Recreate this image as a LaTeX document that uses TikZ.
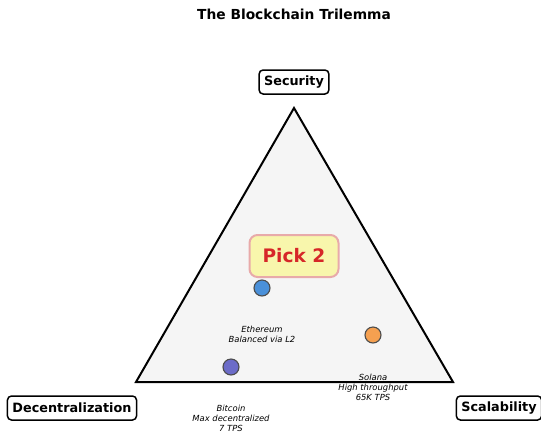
\documentclass[tikz,border=0pt]{standalone}
\usepackage{fontspec}
\setmainfont{DejaVu Sans}
\definecolor{pickfill}{RGB}{248,246,172}
\definecolor{pickedge}{RGB}{232,170,170}
\definecolor{pickred}{RGB}{214,39,40}
\begin{document}
\begin{tikzpicture}[x=1pt,y=-1pt,
  corner/.style={draw=black,line width=1.5pt,fill=white,rounded corners=4pt,
    font=\fontsize{12.8}{14}\selectfont\bfseries,inner xsep=5pt,minimum height=24pt},
  dot/.style={circle,draw=black!70,line width=1.1pt,minimum size=16pt,inner sep=0pt},
  note/.style={align=center,font=\fontsize{8.4}{10}\selectfont\itshape}]
\useasboundingbox (0,0) rectangle (541,432);
\node[font=\fontsize{13.8}{16}\selectfont\bfseries] (title) at (294,14) {The Blockchain Trilemma};
\coordinate (top) at (294,108);
\coordinate (bl) at (136,382);
\coordinate (br) at (453,382);
\draw[line width=2pt,fill=black!4,line join=miter] (top) -- (bl) -- (br) -- cycle;
\node[corner] (sec) at (294,82) {Security};
\node[corner] (dec) at (72,408) {Decentralization};
\node[corner] (sca) at (499,408) {Scalability};
\node[draw=pickedge,line width=2pt,fill=pickfill,rounded corners=8pt,
  minimum width=89pt,minimum height=42pt,text=pickred,font=\fontsize{18.6}{20}\selectfont\bfseries] (pick) at (294,256) {Pick 2};
\node[dot,fill={rgb,255:red,74;green,144;blue,217}] (eth) at (262,288) {};
\node[dot,fill={rgb,255:red,245;green,160;blue,80}] (sol) at (373,335) {};
\node[dot,fill={rgb,255:red,108;green,108;blue,200}] (btc) at (231,367) {};
\node[note] (ethl) at (262,334) {Ethereum\\Balanced via L2};
\node[note] (soll) at (373,387) {Solana\\High throughput\\65K TPS};
\node[note] (btcl) at (231,418) {Bitcoin\\Max decentralized\\7 TPS};
\end{tikzpicture}
\end{document}
